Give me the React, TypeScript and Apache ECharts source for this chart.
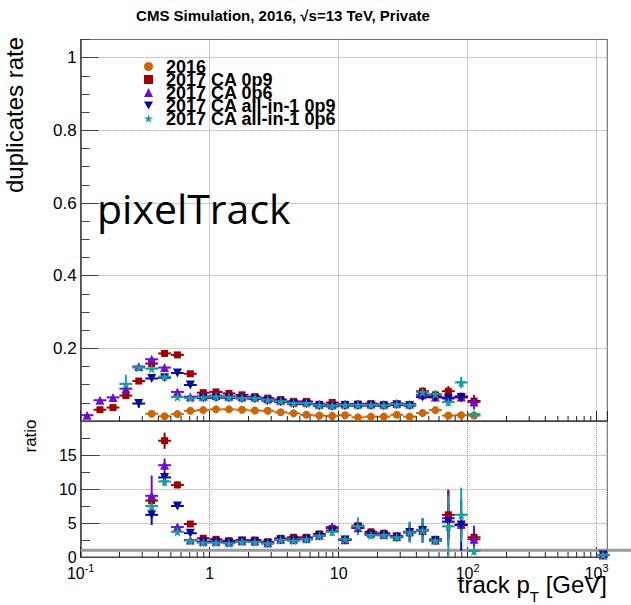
import React, { useEffect, useRef } from 'react';
import * as echarts from 'echarts';

// bin centres (log-spaced, 10 per decade); last entry only in the ratio pad
const binCenters = [0.112, 0.141, 0.178, 0.224, 0.282, 0.355, 0.447, 0.562, 0.708, 0.891,
  1.12, 1.41, 1.78, 2.24, 2.82, 3.55, 4.47, 5.62, 7.08, 8.91,
  11.2, 14.1, 17.8, 22.4, 28.2, 35.5, 44.7, 56.2, 70.8, 89.1, 112, 1122];

const seriesNames = ['2016', '2017 CA 0p9', '2017 CA 0p6', '2017 CA all-in-1 0p9', '2017 CA all-in-1 0p6'];
const seriesColors = ['#cc660a', '#a00000', '#6a10d0', '#0a0a9a', '#1a9f9f'];

// duplicates rate (upper pad)
const rate2016 = [null, null, null, null, null, 0.020, 0.013, 0.019, 0.028, 0.030,
  0.032, 0.032, 0.031, 0.029, 0.028, 0.024, 0.021, 0.017, 0.015, 0.014,
  0.016, 0.010, 0.012, 0.012, 0.017, 0.012, 0.022, 0.030, 0.015, 0.016, 0.015];
const rateCA0p9 = [null, 0.031, 0.037, 0.070, 0.110, 0.158, 0.186, 0.182, 0.130, 0.078,
  0.080, 0.076, 0.072, 0.067, 0.063, 0.059, 0.054, 0.054, 0.046, 0.051,
  0.046, 0.047, 0.048, 0.045, 0.047, 0.045, 0.082, 0.072, 0.082, 0.068, 0.055];
const rateCA0p6 = [0.016, 0.057, 0.065, 0.089, 0.150, 0.170, 0.147, 0.080, 0.067, 0.068,
  0.070, 0.068, 0.067, 0.066, 0.061, 0.057, 0.052, 0.052, 0.046, 0.045,
  0.047, 0.047, 0.047, 0.046, 0.049, 0.047, 0.072, 0.066, 0.065, 0.066, 0.052];
const rateAll0p9 = [null, null, null, null, 0.048, 0.117, 0.119, 0.132, 0.099, 0.063,
  0.064, 0.063, 0.062, 0.061, 0.056, 0.052, 0.047, 0.047, 0.041, 0.040,
  0.042, 0.042, 0.042, 0.041, 0.044, 0.042, 0.066, 0.065, 0.062, 0.065, null];
const rateAll0p6 = [null, null, null, 0.102, 0.147, 0.144, 0.122, 0.066, 0.063, 0.065,
  0.067, 0.065, 0.063, 0.063, 0.058, 0.054, 0.049, 0.049, 0.043, 0.042,
  0.044, 0.044, 0.044, 0.043, 0.046, 0.044, 0.079, 0.074, 0.052, 0.106, 0.019];

const err2016 = [0, 0, 0, 0, 0, 0.002, 0.002, 0.002, 0.002, 0.002,
  0.002, 0.002, 0.002, 0.002, 0.002, 0.002, 0.002, 0.002, 0.002, 0.002,
  0.002, 0.002, 0.002, 0.002, 0.003, 0.003, 0.004, 0.004, 0.004, 0.004, 0.005];
const errCA0p9 = [0, 0.004, 0.004, 0.005, 0.005, 0.005, 0.005, 0.005, 0.005, 0.003,
  0.003, 0.003, 0.003, 0.003, 0.003, 0.003, 0.003, 0.003, 0.003, 0.003,
  0.003, 0.004, 0.004, 0.004, 0.005, 0.005, 0.010, 0.008, 0.014, 0.010, 0.010];
const errCA0p6 = [0.004, 0.004, 0.004, 0.005, 0.005, 0.005, 0.005, 0.004, 0.004, 0.003,
  0.003, 0.003, 0.003, 0.003, 0.003, 0.003, 0.003, 0.003, 0.003, 0.003,
  0.003, 0.004, 0.004, 0.004, 0.005, 0.005, 0.008, 0.008, 0.012, 0.010, 0.020];
const errAll0p9 = [0, 0, 0, 0, 0.012, 0.005, 0.005, 0.005, 0.005, 0.003,
  0.003, 0.003, 0.003, 0.003, 0.003, 0.003, 0.003, 0.003, 0.003, 0.003,
  0.003, 0.004, 0.004, 0.004, 0.005, 0.005, 0.008, 0.008, 0.010, 0.012, 0];
const errAll0p6 = [0, 0, 0, 0.025, 0.006, 0.005, 0.005, 0.004, 0.004, 0.003,
  0.003, 0.003, 0.003, 0.003, 0.003, 0.003, 0.003, 0.003, 0.003, 0.003,
  0.003, 0.004, 0.004, 0.004, 0.005, 0.005, 0.014, 0.010, 0.012, 0.016, 0.006];

// ratio to 2016 (lower pad)
const ratioCA0p9 = [null, null, null, null, null, 8.3, 17.1, 10.6, 4.85, 2.75,
  2.6, 2.4, 2.5, 2.5, 2.25, 2.75, 2.9, 2.9, 3.4, 4.2,
  2.6, 4.6, 3.7, 3.5, 3.1, 3.7, 4.0, 2.6, 6.2, 4.7, 2.9, 0.3];
const ratioCA0p6 = [null, null, null, null, null, 9.0, 13.5, 4.4, 2.5, 2.3,
  2.3, 2.2, 2.4, 2.35, 2.1, 2.6, 2.6, 2.75, 3.2, 4.4,
  2.55, 4.3, 3.5, 3.3, 3.0, 3.7, 3.9, 2.5, 5.7, 4.8, 2.6, 0.3];
const ratioAll0p9 = [null, null, null, null, null, 6.2, 11.7, 7.5, 3.5, 2.2,
  2.2, 2.1, 2.3, 2.25, 2.0, 2.5, 2.45, 2.6, 3.1, 3.8,
  2.5, 4.3, 3.3, 3.2, 2.9, 3.6, 3.9, 2.4, 5.2, 4.7, null, 0.3];
const ratioAll0p6 = [null, null, null, null, null, 7.5, 11.1, 3.7, 2.4, 2.1,
  2.1, 2.0, 2.25, 2.2, 2.0, 2.5, 2.4, 2.6, 3.1, 3.7,
  2.6, 4.5, 3.2, 3.2, 2.9, 3.6, 3.9, 2.4, 4.5, 6.2, 0.9, 0.3];

const errRCA0p9 = [0, 0, 0, 0, 0, 0.8, 1.2, 0.5, 0.4, 0.3,
  0.3, 0.3, 0.3, 0.3, 0.3, 0.3, 0.3, 0.3, 0.3, 0.4,
  0.3, 0.6, 0.5, 0.5, 0.5, 0.6, 0.8, 0.5, 3.7, 1.5, 1.0, 0.3];
const errRCA0p6 = [0, 0, 0, 0, 0, 3.0, 1.0, 0.5, 0.3, 0.3,
  0.3, 0.3, 0.3, 0.3, 0.3, 0.3, 0.3, 0.3, 0.3, 0.6,
  0.3, 0.8, 0.5, 0.5, 0.6, 1.5, 1.0, 0.5, 4.0, 2.0, 2.0, 0.3];
const errRAll0p9 = [0, 0, 0, 0, 0, 1.5, 0.8, 0.4, 0.3, 0.3,
  0.3, 0.3, 0.3, 0.3, 0.3, 0.3, 0.3, 0.3, 0.3, 0.5,
  0.3, 0.8, 0.5, 0.5, 0.6, 1.2, 1.8, 0.5, 2.5, 3.8, 0, 0.3];
const errRAll0p6 = [0, 0, 0, 0, 0, 1.0, 0.7, 0.4, 0.3, 0.3,
  0.3, 0.3, 0.3, 0.3, 0.3, 0.3, 0.3, 0.3, 0.3, 0.6,
  0.3, 1.3, 0.5, 0.5, 0.6, 1.5, 1.8, 0.5, 4.5, 4.0, 0.6, 0.3];

const upperValues = [rate2016, rateCA0p9, rateCA0p6, rateAll0p9, rateAll0p6];
const upperErrors = [err2016, errCA0p9, errCA0p6, errAll0p9, errAll0p6];
const ratioValues = [null, ratioCA0p9, ratioCA0p6, ratioAll0p9, ratioAll0p6];
const ratioErrors = [null, errRCA0p9, errRCA0p6, errRAll0p9, errRAll0p6];

const minorXTicks = [0.2, 0.3, 0.4, 0.5, 0.6, 0.7, 0.8, 0.9, 2, 3, 4, 5, 6, 7, 8, 9,
  20, 30, 40, 50, 60, 70, 80, 90, 200, 300, 400, 500, 600, 700, 800, 900];

const symbols = ['circle', 'rect', 'triangle', 'path://M0,0 L100,0 L50,87 Z',
  'path://M50,0 L61,35 L98,35 L68,57 L79,91 L50,70 L21,91 L32,57 L2,35 L39,35 Z'];
const symbolSizes = [8, 7, 9, 9, 10];

const FONT = '"Liberation Sans", Arial, Helvetica, sans-serif';
const HALF_BIN = Math.pow(10, 0.05);

function errorRender(color: string) {
  return (params: any, api: any) => {
    const x = api.value(0);
    const v = api.value(1);
    const e = api.value(2);
    const c = api.coord([x, v]);
    const l = api.coord([x / HALF_BIN, v]);
    const r = api.coord([x * HALF_BIN, v]);
    const t = api.coord([x, v + e]);
    const b = api.coord([x, Math.max(v - e, 0)]);
    return {
      type: 'group',
      children: [
        { type: 'line', shape: { x1: l[0], y1: c[1], x2: r[0], y2: c[1] }, style: { stroke: color, lineWidth: 2 } },
        { type: 'line', shape: { x1: c[0], y1: t[1], x2: c[0], y2: b[1] }, style: { stroke: color, lineWidth: 2 } },
      ],
    };
  };
}

function minorTickRender(params: any, api: any) {
  const p = api.coord([api.value(0), 0]);
  return { type: 'line', shape: { x1: p[0], y1: p[1], x2: p[0], y2: p[1] - 5 }, style: { stroke: '#222', lineWidth: 1 } };
}

function xLabel(v: number) {
  const e = Math.round(Math.log10(v));
  if (e === 0) return '{b|1}';
  if (e === 1) return '{b|10}';
  return '{b|10}{sup|' + e + '}';
}

function buildOption(ratioY: number | null) {
  const series: any[] = [];
  for (let s = 0; s < 5; s++) {
    const vals = upperValues[s];
    const errs = upperErrors[s];
    const pts: any[] = [];
    const epts: any[] = [];
    for (let i = 0; i < vals.length; i++) {
      if (vals[i] == null) continue;
      pts.push([binCenters[i], vals[i]]);
      epts.push([binCenters[i], vals[i], errs[i]]);
    }
    series.push({ type: 'custom', name: 'err' + s, xAxisIndex: 0, yAxisIndex: 0, renderItem: errorRender(seriesColors[s]), data: epts, silent: true });
    series.push({ type: 'scatter', name: seriesNames[s], xAxisIndex: 0, yAxisIndex: 0, symbol: symbols[s], symbolSize: symbolSizes[s], itemStyle: { color: seriesColors[s], opacity: 1 }, data: pts });
  }
  for (let s = 1; s < 5; s++) {
    const vals = ratioValues[s] as any[];
    const errs = ratioErrors[s] as any[];
    const pts: any[] = [];
    const epts: any[] = [];
    for (let i = 0; i < vals.length; i++) {
      if (vals[i] == null) continue;
      pts.push([binCenters[i], vals[i]]);
      epts.push([binCenters[i], vals[i], errs[i]]);
    }
    series.push({ type: 'custom', name: 'rerr' + s, xAxisIndex: 1, yAxisIndex: 2, renderItem: errorRender(seriesColors[s]), data: epts, silent: true, z: 3 });
    series.push({ type: 'scatter', name: 'r' + seriesNames[s], xAxisIndex: 1, yAxisIndex: 2, symbol: symbols[s], symbolSize: symbolSizes[s], itemStyle: { color: seriesColors[s], opacity: 1 }, data: pts, z: 3 });
  }
  series.push({ type: 'custom', name: 'minor0', xAxisIndex: 0, yAxisIndex: 0, renderItem: minorTickRender, data: minorXTicks.map((v) => [v, 0]), silent: true });
  series.push({ type: 'custom', name: 'minor1', xAxisIndex: 1, yAxisIndex: 2, renderItem: minorTickRender, data: minorXTicks.map((v) => [v, 0]), silent: true });

  const graphics: any[] = [
    { type: 'text', x: 283, y: 15, style: { text: 'CMS Simulation, 2016, \u221As=13 TeV, Private', fontSize: 15, fontWeight: 'bold', fontFamily: FONT, fill: '#000', align: 'center', verticalAlign: 'middle' } },
    { type: 'text', x: 97, y: 208, z: 10, style: { text: 'pixelTrack', fontSize: 41, fontFamily: '"Open Sans", sans-serif', fill: '#000', align: 'left', verticalAlign: 'middle' } },
    { type: 'text', x: 26, y: 115, rotation: Math.PI / 2, style: { text: 'duplicates rate', fontSize: 24, fontFamily: FONT, fill: '#000', align: 'center', verticalAlign: 'bottom' } },
    { type: 'text', x: 39, y: 436, rotation: Math.PI / 2, style: { text: 'ratio', fontSize: 17, fontFamily: FONT, fill: '#000', align: 'center', verticalAlign: 'bottom' } },
    {
      type: 'text', x: 607, y: 572, z: 10,
      style: {
        text: '{a|track p}{s|T}{a| [GeV]}', align: 'right', verticalAlign: 'top', fill: '#000',
        rich: {
          a: { fontSize: 24, lineHeight: 26, verticalAlign: 'top', fontFamily: FONT, fill: '#000' },
          s: { fontSize: 15, lineHeight: 15, padding: [17, 0, 0, 0], verticalAlign: 'top', fontFamily: FONT, fill: '#000' },
        },
      },
    },
  ];
  if (ratioY != null) {
    graphics.push({ type: 'line', z: 1, shape: { x1: 80.7, y1: ratioY, x2: 631, y2: ratioY }, style: { stroke: '#9a9a9a', lineWidth: 3 } });
  }

  const gridLine = { show: true, lineStyle: { type: 'dotted', color: '#999', width: 1 } };
  const xBase = {
    type: 'log', logBase: 10, min: 0.1, max: 1209,
    axisLine: { show: true, lineStyle: { color: '#444', width: 1 } },
    axisTick: { show: true, inside: true, length: 10, lineStyle: { color: '#222' } },
    splitLine: gridLine,
  };

  return {
    animation: false,
    backgroundColor: '#fff',
    textStyle: { fontFamily: FONT },
    grid: [
      { left: 80.7, right: 23.7, top: 39.5, height: 381.5, show: true, borderColor: '#444', borderWidth: 1, backgroundColor: 'transparent' },
      { left: 80.7, right: 23.7, top: 421, height: 136, show: true, borderColor: '#444', borderWidth: 1, backgroundColor: 'transparent' },
    ],
    legend: {
      data: seriesNames, orient: 'vertical', left: 144, top: 57.5, padding: 0, itemGap: -5,
      itemWidth: 9, itemHeight: 9, selectedMode: false,
      textStyle: { fontSize: 18, fontWeight: 'bold', fontFamily: FONT, color: '#000', padding: [0, 0, 0, 8] },
    },
    xAxis: [
      { ...xBase, gridIndex: 0, axisLabel: { show: false } },
      {
        ...xBase, gridIndex: 1,
        axisLabel: {
          show: true, margin: 5, showMaxLabel: false, formatter: xLabel, color: '#000',
          rich: {
            b: { fontSize: 16, lineHeight: 23, fontFamily: FONT, color: '#000' },
            sup: { fontSize: 11, lineHeight: 11, verticalAlign: 'top', fontFamily: FONT, color: '#000' },
          },
        },
      },
    ],
    yAxis: [
      {
        type: 'value', gridIndex: 0, min: 0, max: 1.05, interval: 0.2, position: 'left',
        axisLine: { show: true, lineStyle: { color: '#444', width: 1.5 } },
        axisTick: { show: true, inside: true, length: 18, lineStyle: { color: '#444' } },
        axisLabel: { fontSize: 17, color: '#000', margin: 4, showMinLabel: false, showMaxLabel: false },
        splitLine: gridLine,
      },
      {
        type: 'value', gridIndex: 0, min: 0, max: 1.05, interval: 0.05, position: 'left',
        axisLine: { show: false }, axisLabel: { show: false }, splitLine: { show: false },
        axisTick: { show: true, inside: true, length: 9, lineStyle: { color: '#444' } },
      },
      {
        type: 'value', gridIndex: 1, min: 0, max: 20, interval: 5, position: 'left',
        axisLine: { show: true, lineStyle: { color: '#444', width: 1.5 } },
        axisTick: { show: true, inside: true, length: 19, lineStyle: { color: '#444' } },
        axisLabel: { fontSize: 16, color: '#000', margin: 4, showMaxLabel: false },
        splitLine: gridLine,
      },
      {
        type: 'value', gridIndex: 1, min: 0, max: 20, interval: 2.5, position: 'left',
        axisLine: { show: false }, axisLabel: { show: false }, splitLine: { show: false },
        axisTick: { show: true, inside: true, length: 9.5, lineStyle: { color: '#444' } },
      },
    ],
    graphic: graphics,
    series,
  };
}

export default function App() {
  const ref = useRef<HTMLDivElement>(null);
  useEffect(() => {
    if (!ref.current) return;
    const chart = echarts.init(ref.current, null, { renderer: 'svg' });
    chart.setOption(buildOption(null) as any);
    const p = chart.convertToPixel({ gridIndex: 1 } as any, [0.1, 1]) as any;
    chart.setOption(buildOption(p ? p[1] : null) as any, true);
    return () => chart.dispose();
  }, []);
  return <div ref={ref} style={{ position: 'fixed', left: 0, top: 0, width: 631, height: 605, background: '#fff' }} />;
}
